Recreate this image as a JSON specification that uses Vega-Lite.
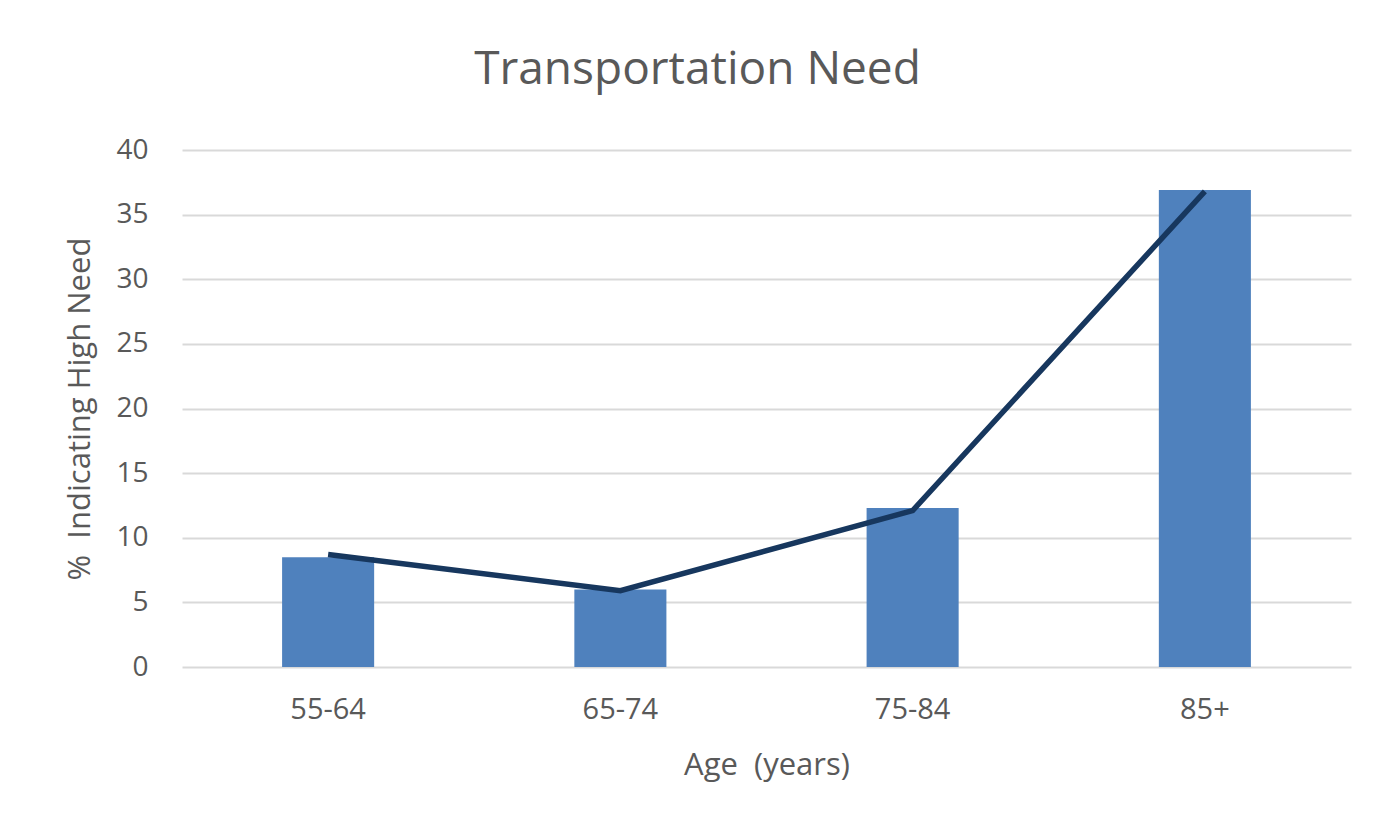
{
  "$schema": "https://vega.github.io/schema/vega-lite/v6.json",
  "autosize": "none",
  "width": 1169,
  "height": 517,
  "padding": {"left": 182, "top": 150, "right": 26, "bottom": 167},
  "background": "white",
  "config": {"view": {"stroke": null}},
  "title": {
    "text": "Transportation Need",
    "anchor": "middle",
    "frame": "group",
    "dx": -69,
    "offset": 42,
    "font": "Open Sans",
    "fontSize": 46,
    "fontWeight": "normal",
    "color": "#595959"
  },
  "data": {
    "values": [
      {"age": "55-64", "pct": 8.5, "trend": 8.7},
      {"age": "65-74", "pct": 6.0, "trend": 5.9},
      {"age": "75-84", "pct": 12.3, "trend": 12.1},
      {"age": "85+", "pct": 36.9, "trend": 36.8}
    ]
  },
  "encoding": {
    "x": {
      "field": "age",
      "type": "nominal",
      "sort": null,
      "scale": {"paddingInner": 0.685, "paddingOuter": 0.3425},
      "axis": {
        "title": "Age\u00a0\u00a0(years)",
        "labelAngle": 0,
        "domain": false,
        "ticks": false,
        "grid": false,
        "labelPadding": 28,
        "labelFont": "Open Sans",
        "labelFontSize": 29,
        "labelColor": "#595959",
        "titleFont": "Open Sans",
        "titleFontSize": 31,
        "titleFontWeight": "normal",
        "titleColor": "#595959",
        "titlePadding": 26
      }
    }
  },
  "layer": [
    {
      "mark": {"type": "bar", "color": "#4F81BD"},
      "encoding": {
        "y": {
          "field": "pct",
          "type": "quantitative",
          "scale": {"domain": [0, 40], "nice": false},
          "axis": {
            "title": "%\u00a0\u00a0Indicating High Need",
            "values": [0, 5, 10, 15, 20, 25, 30, 35, 40],
            "domain": false,
            "ticks": false,
            "grid": true,
            "gridColor": "#D9D9D9",
            "gridWidth": 2,
            "labelPadding": 34,
            "labelFont": "Open Sans",
            "labelFontSize": 28,
            "labelColor": "#595959",
            "titleFont": "Open Sans",
            "titleFontSize": 31,
            "titleFontWeight": "normal",
            "titleColor": "#595959",
            "titlePadding": 19
          }
        }
      }
    },
    {
      "mark": {"type": "line", "color": "#17375E", "strokeWidth": 5.5},
      "encoding": {
        "y": {"field": "trend", "type": "quantitative"}
      }
    }
  ]
}
